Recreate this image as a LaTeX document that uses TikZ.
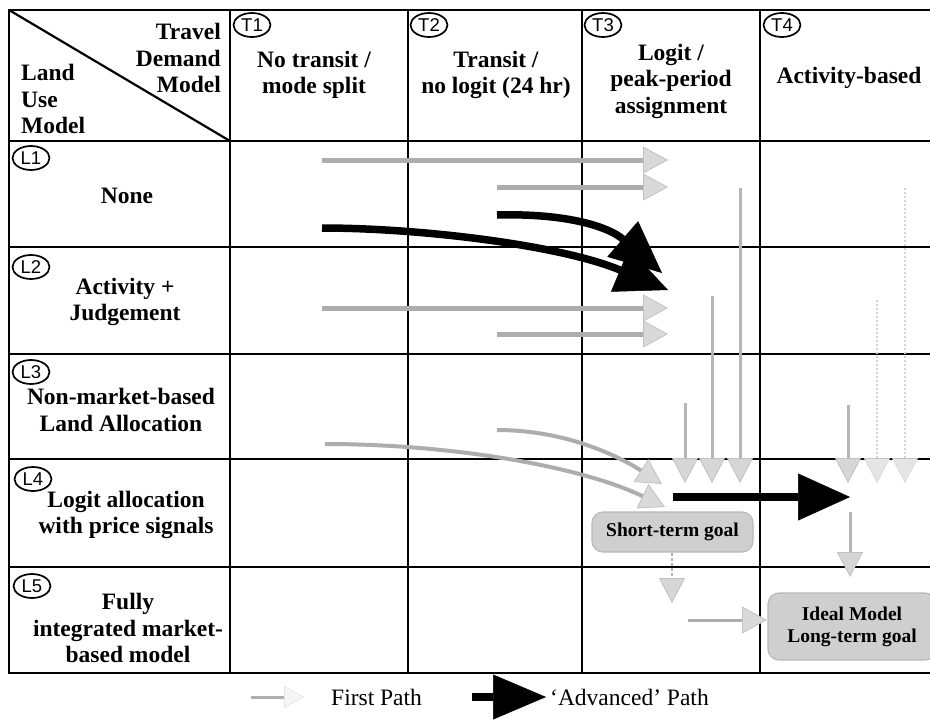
\documentclass[tikz,border=0pt]{standalone}
\usepackage{fontspec}
\setmainfont{Liberation Serif}
\newfontfamily\lblfont{Liberation Sans}
\usetikzlibrary{arrows.meta,shapes.geometric}
\begin{document}
\begin{tikzpicture}[x=1pt,y=-1pt,
  gridline/.style={line width=2.5pt, line cap=rect},
  tbl/.style={font=\bfseries\fontsize{23.5}{26.5}\selectfont, align=center, inner sep=0pt},
  legtext/.style={font=\fontsize{23.5}{26.5}\selectfont, inner sep=0pt},
  tag/.style={ellipse, draw, line width=1.7pt, minimum width=37pt, minimum height=24pt, inner sep=0pt, font=\lblfont\fontsize{18.5}{18.5}\selectfont},
  firstpath/.style={line width=5pt, draw=gray!64, -{Triangle[length=25pt,width=27pt,line width=0.8pt,color=gray!48,fill=gray!30]}},
  firstdown/.style={line width=3pt, draw=gray!58, -{Triangle[length=25pt,width=26pt,line width=0.8pt,color=gray!48,fill=gray!32]}},
  faintdown/.style={line width=2pt, draw=gray!35, dash pattern=on 2pt off 2pt, -{Triangle[length=25pt,width=26pt,line width=0.6pt,color=gray!30,fill=gray!20]}},
  advpath/.style={line width=7.5pt, draw=black, -{Triangle[length=52pt,width=47pt,line width=0.5pt]}},
  goal/.style={draw=gray!55, fill=gray!38, line width=1.2pt, rounded corners=11pt, inner sep=0pt, align=center, font=\bfseries\fontsize{19.5}{22}\selectfont}
]
\clip (0,0) rectangle (930,720);
\useasboundingbox (0,0) rectangle (930,720);
\fill[white] (0,0) rectangle (930,720);

% ---- grid ----
\foreach \yy in {10,141,247,354,459,567,673}
  \draw[gridline] (9,\yy) -- (940,\yy);
\foreach \xx in {9,230,408,582,760}
  \draw[gridline] (\xx,10) -- (\xx,673);
\draw[line width=2.2pt] (9,10) -- (230,141);

% ---- header ----
\node[tbl, align=right, anchor=east] (hdtravel) at (221,58) {Travel\\Demand\\Model};
\node[tbl, align=left, anchor=west] (hdland) at (21,99) {Land\\Use\\Model};

\node[tag] (t1) at (252,25) {T1};
\node[tag] (t2) at (429,25) {T2};
\node[tag] (t3) at (603,25) {T3};
\node[tag] (t4) at (782,25) {T4};

\node[tbl] (h1) at (314,75) {No transit /\\mode split};
\node[tbl] (h2) at (496,75) {Transit /\\no logit (24 hr)};
\node[tbl] (h3) at (671,81) {Logit /\\peak-period\\assignment};
\node[tbl] (h4) at (849,78) {Activity-based};

% ---- row labels ----
\node[tag] (l1) at (31,158) {L1};
\node[tag] (l2) at (31,267) {L2};
\node[tag] (l3) at (31,372) {L3};
\node[tag] (l4) at (33,479) {L4};
\node[tag] (l5) at (32,586) {L5};

\node[tbl] (r1) at (127,196) {None};
\node[tbl] (r2) at (125,302) {Activity +\\Judgement};
\node[tbl] (r3) at (121,410) {Non-market-based\\Land Allocation};
\node[tbl] (r4) at (126,515) {Logit allocation\\with price signals};
\node[tbl] (r5) at (128,628) {Fully\\integrated market-\\based model};

% ---- goal boxes ----
\node[goal, minimum width=161pt, minimum height=40pt] (st) at (672.5,532) {Short-term goal};
\node[goal, minimum width=168pt, minimum height=67pt] (ideal) at (852,626.5) {Ideal Model\\Long-term goal};

% ---- coordinates ----
\coordinate (g1s) at (322,160); \coordinate (g1e) at (668,160);
\coordinate (g2s) at (497,187); \coordinate (g2e) at (668,187);
\coordinate (g3s) at (322,308); \coordinate (g3e) at (668,308);
\coordinate (g4s) at (497,334); \coordinate (g4e) at (668,334);
\coordinate (b1s) at (322,228); \coordinate (b1e) at (668,290);
\coordinate (b2s) at (497,215); \coordinate (b2e) at (662,273);
\coordinate (c1s) at (325,444); \coordinate (c1e) at (665,507);
\coordinate (c2s) at (497,430); \coordinate (c2e) at (662,484);
\coordinate (v1s) at (685,403); \coordinate (v1e) at (685,483);
\coordinate (v2s) at (712,296); \coordinate (v2e) at (712,483);
\coordinate (v3s) at (740,188); \coordinate (v3e) at (740,483);
\coordinate (w1s) at (848,405); \coordinate (w1e) at (848,483);
\coordinate (w2s) at (877,300); \coordinate (w2e) at (877,483);
\coordinate (w3s) at (905,188); \coordinate (w3e) at (905,483);
\coordinate (w4s) at (850,512); \coordinate (w4e) at (850,577);
\coordinate (sde) at (672,603);
\coordinate (ids) at (688,620); \coordinate (ide) at (767,620);
\coordinate (a4s) at (673,497); \coordinate (a4e) at (850,497);

% ---- first path arrows ----
\draw[firstpath] (g1s) -- (g1e);
\draw[firstpath] (g2s) -- (g2e);
\draw[firstpath] (g3s) -- (g3e);
\draw[firstpath] (g4s) -- (g4e);
\draw[firstpath, line width=4pt] (c1s) .. controls (450,444) and (580,466) .. (c1e);
\draw[firstpath, line width=4pt] (c2s) .. controls (560,430) and (612,452) .. (c2e);
\draw[firstdown] (v1s) -- (v1e);
\draw[firstdown] (v2s) -- (v2e);
\draw[firstdown] (v3s) -- (v3e);
\draw[firstdown] (w1s) -- (w1e);
\draw[faintdown] (w2s) -- (w2e);
\draw[faintdown] (w3s) -- (w3e);
\draw[firstdown] (w4s) -- (w4e);
\draw[firstdown, line width=2pt, dash pattern=on 3pt off 2pt] (st.south -| sde) -- (sde);
\draw[firstpath, line width=3pt] (ids) -- (ide);

% ---- advanced path arrows ----
\draw[advpath] (b1s) .. controls (420,228) and (560,245) .. (b1e);
\draw[advpath] (b2s) .. controls (570,213) and (610,228) .. (b2e);
\draw[advpath] (a4s) -- (a4e);

% ---- legend ----
\coordinate (lg1s) at (251,697); \coordinate (lg1e) at (304,697);
\coordinate (lg2s) at (472,697); \coordinate (lg2e) at (546,697);
\draw[line width=3pt, draw=gray!62, -{Triangle[length=20pt,width=22pt,line width=0.5pt,color=gray!25,fill=gray!8]}] (lg1s) -- (lg1e);
\node[legtext, anchor=west] (lgfirst) at (331,697) {First Path};
\draw[advpath, -{Triangle[length=53pt,width=45pt,line width=0.5pt]}] (lg2s) -- (lg2e);
\node[legtext, anchor=west] (lgadv) at (550,697) {‘Advanced’ Path};
\end{tikzpicture}
\end{document}
